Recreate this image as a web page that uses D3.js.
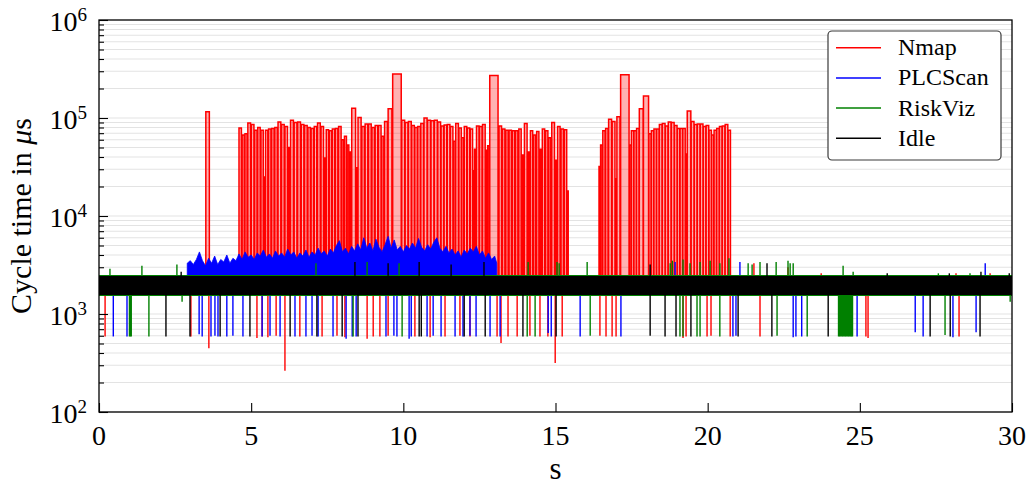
<!DOCTYPE html>
<html><head><meta charset="utf-8">
<script src="https://cdn.jsdelivr.net/npm/d3@7"></script>
<style>
body{margin:0;background:#fff}
svg{display:block}
text{font-family:"Liberation Serif","Times New Roman",serif;fill:#000}
</style>
</head><body>
<svg id="chart" width="1028" height="485"></svg>
<script>
// ---------------- data ----------------
const seriesNames  = ["Nmap", "PLCScan", "RiskViz", "Idle"];
const seriesColors = ["#ff0000", "#0000ff", "#008000", "#000000"];
const xTickValues  = [0, 5, 10, 15, 20, 25, 30];
const yTickExponents = [2, 3, 4, 5, 6];

// Nmap: bursts of long PLC cycles (cycle time in µs), each burst spanning [start, end] seconds
const nmapBurstStart = [3.51, 4.60, 9.65, 12.84, 16.43, 17.14];
const nmapBurstEnd   = [3.63, 9.65, 12.84, 15.45, 17.14, 20.76];
const nmapBurst0 = [116000];
const nmapBurst1 = [79000, 67000, 69000, 89000, 86000, 75000, 80000, 75000, 25000, 75000, 77000, 78000, 80000, 91000, 86000, 82000, 50000, 95000, 90000, 91000, 86000, 84000, 80000,
                    78000, 82000, 89000, 82000, 39000, 76000, 74000, 77000, 78000, 82000, 60000, 65000, 53000, 45000, 126000, 31000, 101000, 82000, 87000, 87000, 80000, 84000, 84000, 65000, 92000, 124000];
const nmapBurst2 = [281000, 95000, 90000, 92000, 84000, 80000, 82000, 88000, 100000, 95000, 94000, 95000, 91000, 83000, 85000, 86000, 82000, 58000, 88000, 79000, 63000, 82000, 79000, 77000, 29000, 48000, 83000, 82000, 86000, 47000, 52000];
const nmapBurst3 = [272000, 83000, 77000, 75000, 75000, 74000, 74000, 77000, 42000, 88000, 45000, 74000, 67000, 73000, 48000, 77000, 74000, 63000, 90000, 37000, 82000, 77000, 76000, 18000];
const nmapBurst4 = [32000, 53000, 74000, 78000, 97000, 92000, 24000, 103000];
const nmapBurst5 = [277000, 53000, 74000, 74000, 78000, 124000, 168000, 69000, 74000, 77000, 77000, 86000, 88000, 83000, 91000, 90000, 84000, 78000, 78000, 78000, 43000, 118000, 92000, 86000, 87000, 87000, 82000, 84000, 75000, 67000, 75000, 78000, 82000, 83000, 86000, 75000];
const nmapBase = 2000;
const nmapSpikeT = [0.20, 3.02, 3.61, 5.19, 5.36, 5.55, 5.82, 6.11, 6.60, 7.33, 7.82, 8.08, 8.81, 9.01, 9.23, 9.50, 10.38, 10.88, 11.37, 11.86, 12.19, 13.08, 13.21, 13.44, 13.74, 14.16, 14.49, 14.75, 14.99, 15.22, 16.46, 16.66, 16.86, 16.99, 19.19, 19.29, 19.98, 20.11, 20.74, 21.72, 25.20, 25.27, 28.26, 21.52, 22.64, 23.73, 28.16, 29.28];
const nmapSpikeV = [590, 590, 447, 570, 590, 580, 600, 264, 590, 590, 600, 580, 560, 590, 590, 600, 590, 580, 590, 600, 590, 590, 505, 590, 590, 600, 590, 590, 316, 590, 600, 590, 590, 590, 570, 590, 590, 600, 590, 590, 590, 570, 590, 3300, 3000, 2600, 2600, 2600];

// PLCScan: upper envelope of the dense cycle-time band while scanning (sampled every 0.1 s)
const plcEnvT = [2.9, 3.0, 3.1, 3.2, 3.3, 3.4, 3.5, 3.6, 3.7, 3.8, 3.9, 4.0, 4.1, 4.2, 4.3, 4.4, 4.5, 4.6, 4.7, 4.8, 4.9,
                 5.0, 5.1, 5.2, 5.3, 5.4, 5.5, 5.6, 5.7, 5.8, 5.9, 6.0, 6.1, 6.2, 6.3, 6.4, 6.5, 6.6, 6.7, 6.8, 6.9,
                 7.0, 7.1, 7.2, 7.3, 7.4, 7.5, 7.6, 7.7, 7.8, 7.9, 8.0, 8.1, 8.2, 8.3, 8.4, 8.5, 8.6, 8.7, 8.8, 8.9,
                 9.0, 9.1, 9.2, 9.3, 9.4, 9.5, 9.6, 9.7, 9.8, 9.9, 10.0, 10.1, 10.2, 10.3, 10.4, 10.5, 10.6, 10.7, 10.8, 10.9,
                 11.0, 11.1, 11.2, 11.3, 11.4, 11.5, 11.6, 11.7, 11.8, 11.9, 12.0, 12.1, 12.2, 12.3, 12.4, 12.5, 12.6, 12.7, 12.8, 12.9,
                 13.0, 13.07];
const plcEnvV = [3300, 3500, 3200, 3600, 4300, 3500, 3100, 3700, 3300, 3900, 3200, 3600, 3400, 4000, 3300, 3700, 3500, 4100, 3600, 4300, 3800,
                 4000, 3600, 4200, 3900, 4500, 3800, 4100, 3700, 4400, 3900, 4200, 3800, 4600, 4000, 4300, 3700, 4200, 3900, 4500, 3800,
                 4300, 4000, 4700, 4100, 4400, 3900, 4600, 4200, 5000, 5600, 4300, 4700, 4100, 4900, 4400, 5200, 4500, 6000, 4700, 5300,
                 4400, 5800, 4800, 4300, 5100, 6200, 4700, 5700, 4500, 4900, 4300, 5000, 4600, 5300, 4700, 5900, 4800, 4400, 5100, 4600,
                 5400, 6000, 4700, 4300, 4900, 4200, 4600, 4000, 4400, 3800, 4500, 4100, 4700, 4300, 4900, 4000, 4400, 3700, 4200, 3600,
                 3900, 3300];
const plcBase = 2000;
const plcSpikeT = [0.47, 0.92, 3.29, 3.39, 3.68, 3.81, 3.91, 4.20, 4.40, 4.73, 5.36, 5.62, 5.95, 6.44, 6.80, 7.00, 7.20, 7.69, 8.12, 8.32, 8.45, 9.43, 9.69, 9.79, 10.19, 10.26, 10.78, 10.98, 11.24, 11.70, 11.96, 12.19, 12.39, 12.85, 13.18, 14.76, 14.86, 15.81, 17.15, 20.83, 20.93, 22.81, 22.90, 23.09, 24.91, 26.82, 27.08, 28.06, 28.82, 18.93, 21.06, 29.12];
const plcSpikeV = [590, 590, 620, 590, 590, 600, 590, 590, 600, 590, 590, 600, 590, 590, 590, 600, 590, 590, 560, 590, 590, 590, 600, 590, 560, 590, 590, 600, 590, 590, 590, 600, 590, 590, 590, 640, 590, 590, 590, 590, 600, 580, 590, 590, 590, 650, 590, 580, 650, 3400, 3400, 3300];

// RiskViz
const riskBandT = [0, 30];
const riskBandLow = [1530, 1530];
const riskBandHigh = [2500, 2500];
const riskBase = 2000;
const riskSpikeT = [1.00, 1.03, 1.06, 1.64, 2.73, 8.35, 9.96, 14.07, 14.33, 16.14, 19.09, 19.19, 19.65, 19.75, 20.40, 22.28, 23.27,
                    24.30, 24.33, 24.36, 24.40, 24.43, 24.46, 24.50, 24.53, 24.56, 24.60, 24.63, 24.66, 24.70, 24.73, 24.76, 27.80, 29.94,
                    0.36, 1.41, 2.56, 7.13, 8.81, 9.86, 14.10, 15.05, 15.12, 16.04, 18.77, 18.84, 19.19, 19.42, 19.75, 20.08, 20.40, 20.70, 21.33, 21.46, 21.72, 22.25, 22.64, 22.71, 22.81, 24.45, 24.78, 27.58, 28.62];
const riskSpikeV = [590, 590, 590, 590, 1330, 590, 590, 590, 590, 600, 590, 590, 590, 590, 590, 600, 590,
                    590, 590, 590, 590, 590, 590, 590, 590, 590, 590, 590, 590, 590, 590, 590, 610, 1330,
                    2900, 3100, 3200, 3300, 3400, 3300, 3400, 3400, 3300, 3400, 3300, 3500, 3600, 3300, 3400, 3500, 3300, 3700, 3300, 3200, 3400, 3400, 3500, 3300, 3300, 3100, 2700, 2600, 2600];

// Idle
const idleBandT = [0, 30];
const idleBandLow = [1560, 1560];
const idleBandHigh = [2440, 2440];
const idleBase = 2000;
const idleSpikeT = [2.20, 2.99, 3.98, 4.96, 6.28, 7.16, 7.99, 8.51, 10.52, 10.59, 12.00, 12.69, 13.93, 15.02, 18.11, 18.60, 18.96, 19.45, 21.00, 22.11, 23.96, 27.31, 27.97, 28.95,
                    2.70, 8.41, 9.50, 10.52, 11.57, 12.65, 18.11, 21.95, 25.90, 27.94, 28.98, 29.91];
const idleSpikeV = [590, 590, 590, 590, 590, 590, 590, 590, 590, 590, 590, 590, 590, 590, 600, 590, 590, 590, 590, 590, 590, 590, 590, 590,
                    2700, 3400, 3300, 3400, 3200, 3400, 3200, 3300, 2600, 2600, 2700, 2600];

// ---------------- chart ----------------
const svg = d3.select("#chart");
const M = {left: 99, right: 1012, top: 20, bottom: 412};
const x = d3.scaleLinear().domain([0, 30]).range([M.left, M.right]);
const y = d3.scaleLog().domain([1e2, 1e6]).range([M.bottom, M.top]);

svg.append("clipPath").attr("id", "clip").append("rect")
  .attr("x", M.left).attr("y", M.top).attr("width", M.right - M.left).attr("height", M.bottom - M.top);

// grid
const gridVals = [];
for (let e = 2; e <= 5; e++) for (let m = 1; m <= 9; m++) gridVals.push(m * Math.pow(10, e));
svg.append("g").selectAll("line").data(gridVals).join("line")
  .attr("x1", M.left).attr("x2", M.right)
  .attr("y1", d => y(d)).attr("y2", d => y(d))
  .attr("stroke", "#e3e3e3").attr("stroke-width", 1.1);

const plot = svg.append("g").attr("clip-path", "url(#clip)");

function drawSpikes(g, T, V, base, color) {
  g.append("g").selectAll("line").data(T.map((t, i) => [t, V[i]])).join("line")
    .attr("x1", d => x(d[0])).attr("x2", d => x(d[0]))
    .attr("y1", y(base)).attr("y2", d => y(d[1]))
    .attr("stroke", color).attr("stroke-width", 1.4);
}

// Nmap
const nmapG = plot.append("g");
const bursts = [nmapBurst0, nmapBurst1, nmapBurst2, nmapBurst3, nmapBurst4, nmapBurst5];
bursts.forEach((vals, b) => {
  const start = nmapBurstStart[b], end = nmapBurstEnd[b];
  const busy = d3.sum(vals) / 1e6;
  const gap = Math.max(0, (end - start - busy) / vals.length);
  const pts = [[start, nmapBase]];
  let t = start;
  vals.forEach(v => {
    pts.push([t, v]);
    t += v / 1e6;
    pts.push([t, nmapBase]);
    t += gap;
  });
  nmapG.append("path").datum(pts)
    .attr("d", d3.area().x(d => x(d[0])).y0(y(nmapBase)).y1(d => y(d[1])).curve(d3.curveStepAfter))
    .attr("fill", "rgba(255,0,0,0.3)");
  nmapG.append("path").datum(pts)
    .attr("d", d3.line().x(d => x(d[0])).y(d => y(d[1])).curve(d3.curveStepAfter))
    .attr("fill", "none").attr("stroke", seriesColors[0]).attr("stroke-width", 1.5);
});
drawSpikes(nmapG, nmapSpikeT, nmapSpikeV, nmapBase, seriesColors[0]);

// PLCScan
const plcG = plot.append("g");
plcG.append("path").datum(plcEnvT.map((t, i) => [t, plcEnvV[i]]))
  .attr("d", d3.area().x(d => x(d[0])).y0(y(plcBase)).y1(d => y(d[1])))
  .attr("fill", seriesColors[1]).attr("stroke", seriesColors[1]).attr("stroke-width", 0.8);
drawSpikes(plcG, plcSpikeT, plcSpikeV, plcBase, seriesColors[1]);

// RiskViz
const riskG = plot.append("g");
riskG.append("path").datum(riskBandT.map((t, i) => [t, riskBandLow[i], riskBandHigh[i]]))
  .attr("d", d3.area().x(d => x(d[0])).y0(d => y(d[1])).y1(d => y(d[2])))
  .attr("fill", seriesColors[2]);
drawSpikes(riskG, riskSpikeT, riskSpikeV, riskBase, seriesColors[2]);

// Idle
const idleG = plot.append("g");
idleG.append("path").datum(idleBandT.map((t, i) => [t, idleBandLow[i], idleBandHigh[i]]))
  .attr("d", d3.area().x(d => x(d[0])).y0(d => y(d[1])).y1(d => y(d[2])))
  .attr("fill", seriesColors[3]);
drawSpikes(idleG, idleSpikeT, idleSpikeV, idleBase, seriesColors[3]);

// axes (inward ticks)
const majorY = yTickExponents.map(e => Math.pow(10, e));
const minorY = gridVals.filter(v => !majorY.includes(v));
function styleAxis(g) { g.select(".domain").remove(); g.selectAll(".tick line").attr("stroke", "#000").attr("stroke-width", 1.1); }
svg.append("g").attr("transform", `translate(${M.left},0)`)
  .call(d3.axisLeft(y).tickValues(majorY).tickSize(-9).tickFormat("")).call(styleAxis);
svg.append("g").attr("transform", `translate(${M.left},0)`)
  .call(d3.axisLeft(y).tickValues(minorY).tickSize(-5).tickFormat("")).call(styleAxis);
svg.append("g").attr("transform", `translate(0,${M.bottom})`)
  .call(d3.axisBottom(x).tickValues(xTickValues).tickSize(-9).tickFormat("")).call(styleAxis);

// spines
svg.append("rect").attr("x", M.left).attr("y", M.top).attr("width", M.right - M.left).attr("height", M.bottom - M.top)
  .attr("fill", "none").attr("stroke", "#000").attr("stroke-width", 1.3);

// y tick labels 10^e
yTickExponents.forEach(e => {
  const t = svg.append("text").attr("x", 87).attr("y", y(Math.pow(10, e)) + 10.5)
    .attr("text-anchor", "end").style("font-size", "28px");
  t.append("tspan").text("10");
  t.append("tspan").attr("dy", -10).style("font-size", "19px").text(e);
});
// x tick labels
svg.append("g").selectAll("text").data(xTickValues).join("text")
  .attr("x", d => x(d)).attr("y", 445).attr("text-anchor", "middle")
  .style("font-size", "28px").text(d => d);

// axis titles
svg.append("text").attr("x", (M.left + M.right) / 2).attr("y", 479).attr("text-anchor", "middle")
  .style("font-size", "31px").text("s");
const yl = svg.append("text").attr("transform", `translate(31,${(M.top + M.bottom) / 2}) rotate(-90)`)
  .attr("text-anchor", "middle").style("font-size", "30px");
yl.append("tspan").text("Cycle time in ");
yl.append("tspan").style("font-style", "italic").text("μ");
yl.append("tspan").text("s");

// legend
const lg = svg.append("g");
lg.append("rect").attr("x", 828).attr("y", 31).attr("width", 173).attr("height", 129).attr("rx", 4)
  .attr("fill", "#fff").attr("stroke", "#3a3a3a").attr("stroke-width", 1.2);
seriesNames.forEach((name, i) => {
  const cy = 47.7 + i * 30.2;
  lg.append("line").attr("x1", 836).attr("x2", 881).attr("y1", cy).attr("y2", cy)
    .attr("stroke", seriesColors[i]).attr("stroke-width", 1.5);
  lg.append("text").attr("x", 898).attr("y", cy + 7.5).style("font-size", "24px").text(name);
});
</script>
</body></html>
